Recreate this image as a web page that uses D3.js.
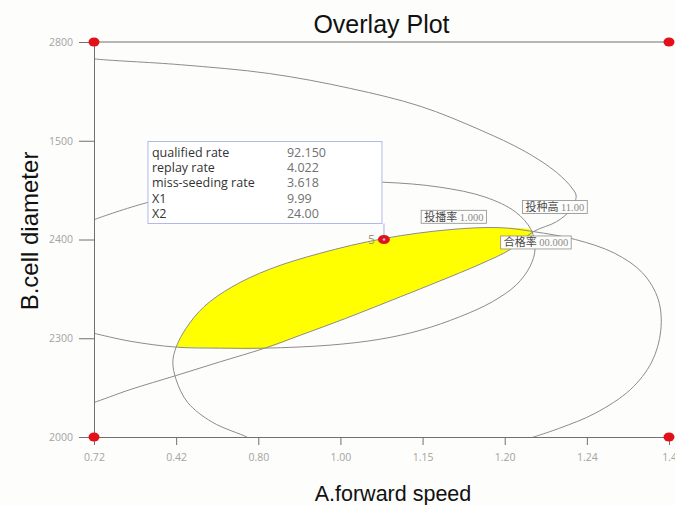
<!DOCTYPE html>
<html>
<head>
<meta charset="utf-8">
<script src="https://cdn.jsdelivr.net/npm/d3@7"></script>
<style>
    body { margin: 0; background: #fdfdfb; }
</style>
</head>
<body>
<div id="chart"></div>
<script>
// tick labels (the axes are not monotonic, so ticks are placed by index)
var xTicks = ["0.72", "0.42", "0.80", "1.00", "1.15", "1.20", "1.24", "1.4"];
var yTicks = ["2000", "2300", "2400", "1500", "2800"];

// contour lines, in tick-index units [x, y]
var contourA = [[-0.05,3.84],[0,3.83],[1.05,3.77],[2.14,3.68],[3.12,3.53],[3.97,3.35],[4.70,3.11],[5.25,2.89],[5.63,2.68],[5.82,2.52],[5.87,2.44],[5.80,2.30],[5.63,2.18],[5.35,2.08],[5.07,1.90],[4.70,1.75],[4.21,1.58],[3.73,1.42],[3.06,1.20],[2.51,1.03],[2.08,0.90],[1.53,0.76],[0.99,0.62],[0.44,0.48],[0,0.35],[-0.05,0.34]];
var contourB = [[-0.05,2.18],[0,2.20],[0.63,2.37],[1.29,2.49],[2.02,2.55],[2.75,2.58],[3.52,2.58],[4.21,2.53],[4.76,2.43],[5.13,2.28],[5.32,2.10],[5.37,1.91],[5.31,1.73],[5.14,1.54],[4.85,1.37],[4.46,1.22],[3.97,1.08],[3.48,0.99],[2.87,0.93],[2.08,0.90],[1.53,0.90],[1.00,0.91],[0.44,0.97],[0,1.05],[-0.05,1.06]];
var contourD = [[1.92,-0.03],[1.86,0],[1.44,0.15],[1.14,0.35],[1.00,0.58],[0.96,0.76],[1.00,0.91],[1.12,1.10],[1.34,1.32],[1.68,1.52],[2.14,1.70],[2.75,1.86],[3.53,2.01],[4.33,2.10],[4.94,2.12],[5.35,2.08],[5.86,2.00],[6.34,1.86],[6.68,1.66],[6.87,1.39],[6.90,1.08],[6.79,0.76],[6.53,0.48],[6.10,0.24],[5.67,0.09],[5.24,-0.03]];

// feasible (yellow) window
var sweetSpot = [[1.00,0.91],[1.12,1.10],[1.34,1.32],[1.68,1.52],[2.14,1.70],[2.75,1.86],[3.53,2.01],[4.33,2.10],[4.94,2.12],[5.35,2.08],[5.07,1.90],[4.70,1.75],[4.21,1.58],[3.73,1.42],[3.06,1.20],[2.51,1.03],[2.08,0.90],[1.53,0.90],[1.00,0.91]];

// design points and flagged point
var designPts = [[0,0],[7,0],[0,4],[7,4]];
var flagPt = [3.53, 2.00];
var flagLabel = "5";
var flagNames = ["qualified rate", "replay rate", "miss-seeding rate", "X1", "X2"];
var flagValues = ["92.150", "4.022", "3.618", "9.99", "24.00"];

// contour labels
var labelNames = ["投播率", "投种高", "合格率"];
var labelValues = ["1.000", "11.00", "00.000"];
var labelAt = [[4.38,2.23],[5.61,2.33],[5.38,1.97]];

var width = 675,
    height = 505;
var margin = {left: 94, right: 6, top: 42, bottom: 68};

var svg = d3.select("#chart")
    .append("svg")
    .attr("width", width)
    .attr("height", height)
    .style("display", "block");

var x = d3.scaleLinear().domain([0, xTicks.length - 1]).range([margin.left, width - margin.right]);
var y = d3.scaleLinear().domain([0, yTicks.length - 1]).range([height - margin.bottom, margin.top]);

svg.append("defs").append("clipPath").attr("id", "plotclip")
    .append("rect")
    .attr("x", x(0)).attr("y", y(4))
    .attr("width", x(7) - x(0)).attr("height", y(0) - y(4));

var line = d3.line()
    .x(function(d) { return x(d[0]) })
    .y(function(d) { return y(d[1]) })
    .curve(d3.curveCatmullRom.alpha(0.5));

var plot = svg.append("g").attr("clip-path", "url(#plotclip)");

plot.append("path")
    .attr("d", line(sweetSpot) + "Z")
    .attr("fill", "#ffff00")
    .attr("stroke", "none");

[contourA, contourB, contourD].forEach(function(c) {
    plot.append("path")
        .attr("d", line(c))
        .attr("fill", "none")
        .attr("stroke", "#8c8c8c")
        .attr("stroke-width", 1);
});

// axes
var xAxis = d3.axisBottom(x)
    .tickValues(d3.range(xTicks.length))
    .tickFormat(function(i) { return xTicks[i] })
    .tickSize(8)
    .tickSizeOuter(0)
    .tickPadding(9);

var yAxis = d3.axisLeft(y)
    .tickValues(d3.range(yTicks.length))
    .tickFormat(function(i) { return yTicks[i] })
    .tickSize(15)
    .tickSizeOuter(0)
    .tickPadding(6);

var gx = svg.append("g").attr("transform", "translate(0," + y(0) + ")").call(xAxis);
var gy = svg.append("g").attr("transform", "translate(" + x(0) + ",0)").call(yAxis);

[gx, gy].forEach(function(g) {
    g.selectAll("path, line").attr("stroke", "#707070");
    g.selectAll("text")
        .attr("fill", "#a3a3a3")
        .style("font-family", "'Open Sans', sans-serif")
        .style("font-size", "10.5px");
});

svg.append("line")
    .attr("x1", x(0)).attr("x2", x(7))
    .attr("y1", y(4)).attr("y2", y(4))
    .attr("stroke", "#707070");

// design points
svg.selectAll(".design")
    .data(designPts)
    .enter().append("ellipse")
    .attr("class", "design")
    .attr("cx", function(d) { return x(d[0]) })
    .attr("cy", function(d) { return y(d[1]) })
    .attr("rx", 5.5)
    .attr("ry", 4.5)
    .attr("fill", "#e3101a");

// contour labels
labelNames.forEach(function(name, i) {
    var g = svg.append("g")
        .attr("transform", "translate(" + x(labelAt[i][0]) + "," + y(labelAt[i][1]) + ")");
    var rect = g.append("rect");
    var t = g.append("text").attr("y", 4);
    t.append("tspan")
        .text(name)
        .attr("fill", "#4a4a4a")
        .style("font-family", "'Noto Sans CJK SC', sans-serif")
        .style("font-size", "11px");
    t.append("tspan")
        .text(" " + labelValues[i])
        .attr("fill", "#8a8a8a")
        .style("font-family", "'Liberation Serif', serif")
        .style("font-size", "10.5px");
    var w = t.node().getComputedTextLength();
    t.attr("x", -w / 2);
    rect.attr("x", -w / 2 - 3).attr("y", -6.5)
        .attr("width", w + 6).attr("height", 13)
        .attr("fill", "#fdfdfb")
        .attr("stroke", "#8c8c8c")
        .attr("stroke-width", 0.8);
});

// flag for the chosen point
var px = x(flagPt[0]),
    py = y(flagPt[1]);
var boxW = 234, boxH = 82;
var bx = px - 2 - boxW,
    by = py - 16 - boxH;

svg.append("line")
    .attr("x1", px).attr("x2", px)
    .attr("y1", by + boxH).attr("y2", py)
    .attr("stroke", "#a9aeea");

svg.append("rect")
    .attr("x", bx).attr("y", by)
    .attr("width", boxW).attr("height", boxH)
    .attr("fill", "#ffffff")
    .attr("stroke", "#b3b8ea");

flagNames.forEach(function(n, i) {
    svg.append("text")
        .attr("x", bx + 4).attr("y", by + 15 + i * 15.4)
        .attr("fill", "#333")
        .style("font-family", "'Open Sans', sans-serif")
        .style("font-size", "12.5px")
        .text(n);
    svg.append("text")
        .attr("x", bx + 139).attr("y", by + 15 + i * 15.4)
        .attr("fill", "#707070")
        .style("font-family", "'Open Sans', sans-serif")
        .style("font-size", "12.5px")
        .text(flagValues[i]);
});

svg.append("ellipse")
    .attr("cx", px).attr("cy", py)
    .attr("rx", 6).attr("ry", 4.5)
    .attr("fill", "#e3101a");
svg.append("circle")
    .attr("cx", px).attr("cy", py).attr("r", 1.3)
    .attr("fill", "#b9bcf5");
svg.append("text")
    .attr("x", px - 9).attr("y", py + 4.5)
    .attr("text-anchor", "end")
    .attr("fill", "#9a9a80")
    .style("font-family", "'Open Sans', sans-serif")
    .style("font-size", "12px")
    .text(flagLabel);

// titles
svg.append("text")
    .attr("x", (x(0) + x(7)) / 2).attr("y", 33)
    .attr("text-anchor", "middle")
    .attr("fill", "#111")
    .style("font-family", "'Liberation Sans', Arial, sans-serif")
    .style("font-size", "25px")
    .text("Overlay Plot");

svg.append("text")
    .attr("x", 393).attr("y", 501)
    .attr("text-anchor", "middle")
    .attr("fill", "#111")
    .style("font-family", "'Liberation Sans', Arial, sans-serif")
    .style("font-size", "21.5px")
    .text("A.forward speed");

svg.append("text")
    .attr("transform", "translate(38,231) rotate(-90)")
    .attr("text-anchor", "middle")
    .attr("fill", "#111")
    .style("font-family", "'Liberation Sans', Arial, sans-serif")
    .style("font-size", "24px")
    .text("B.cell diameter");
</script>
</body>
</html>
